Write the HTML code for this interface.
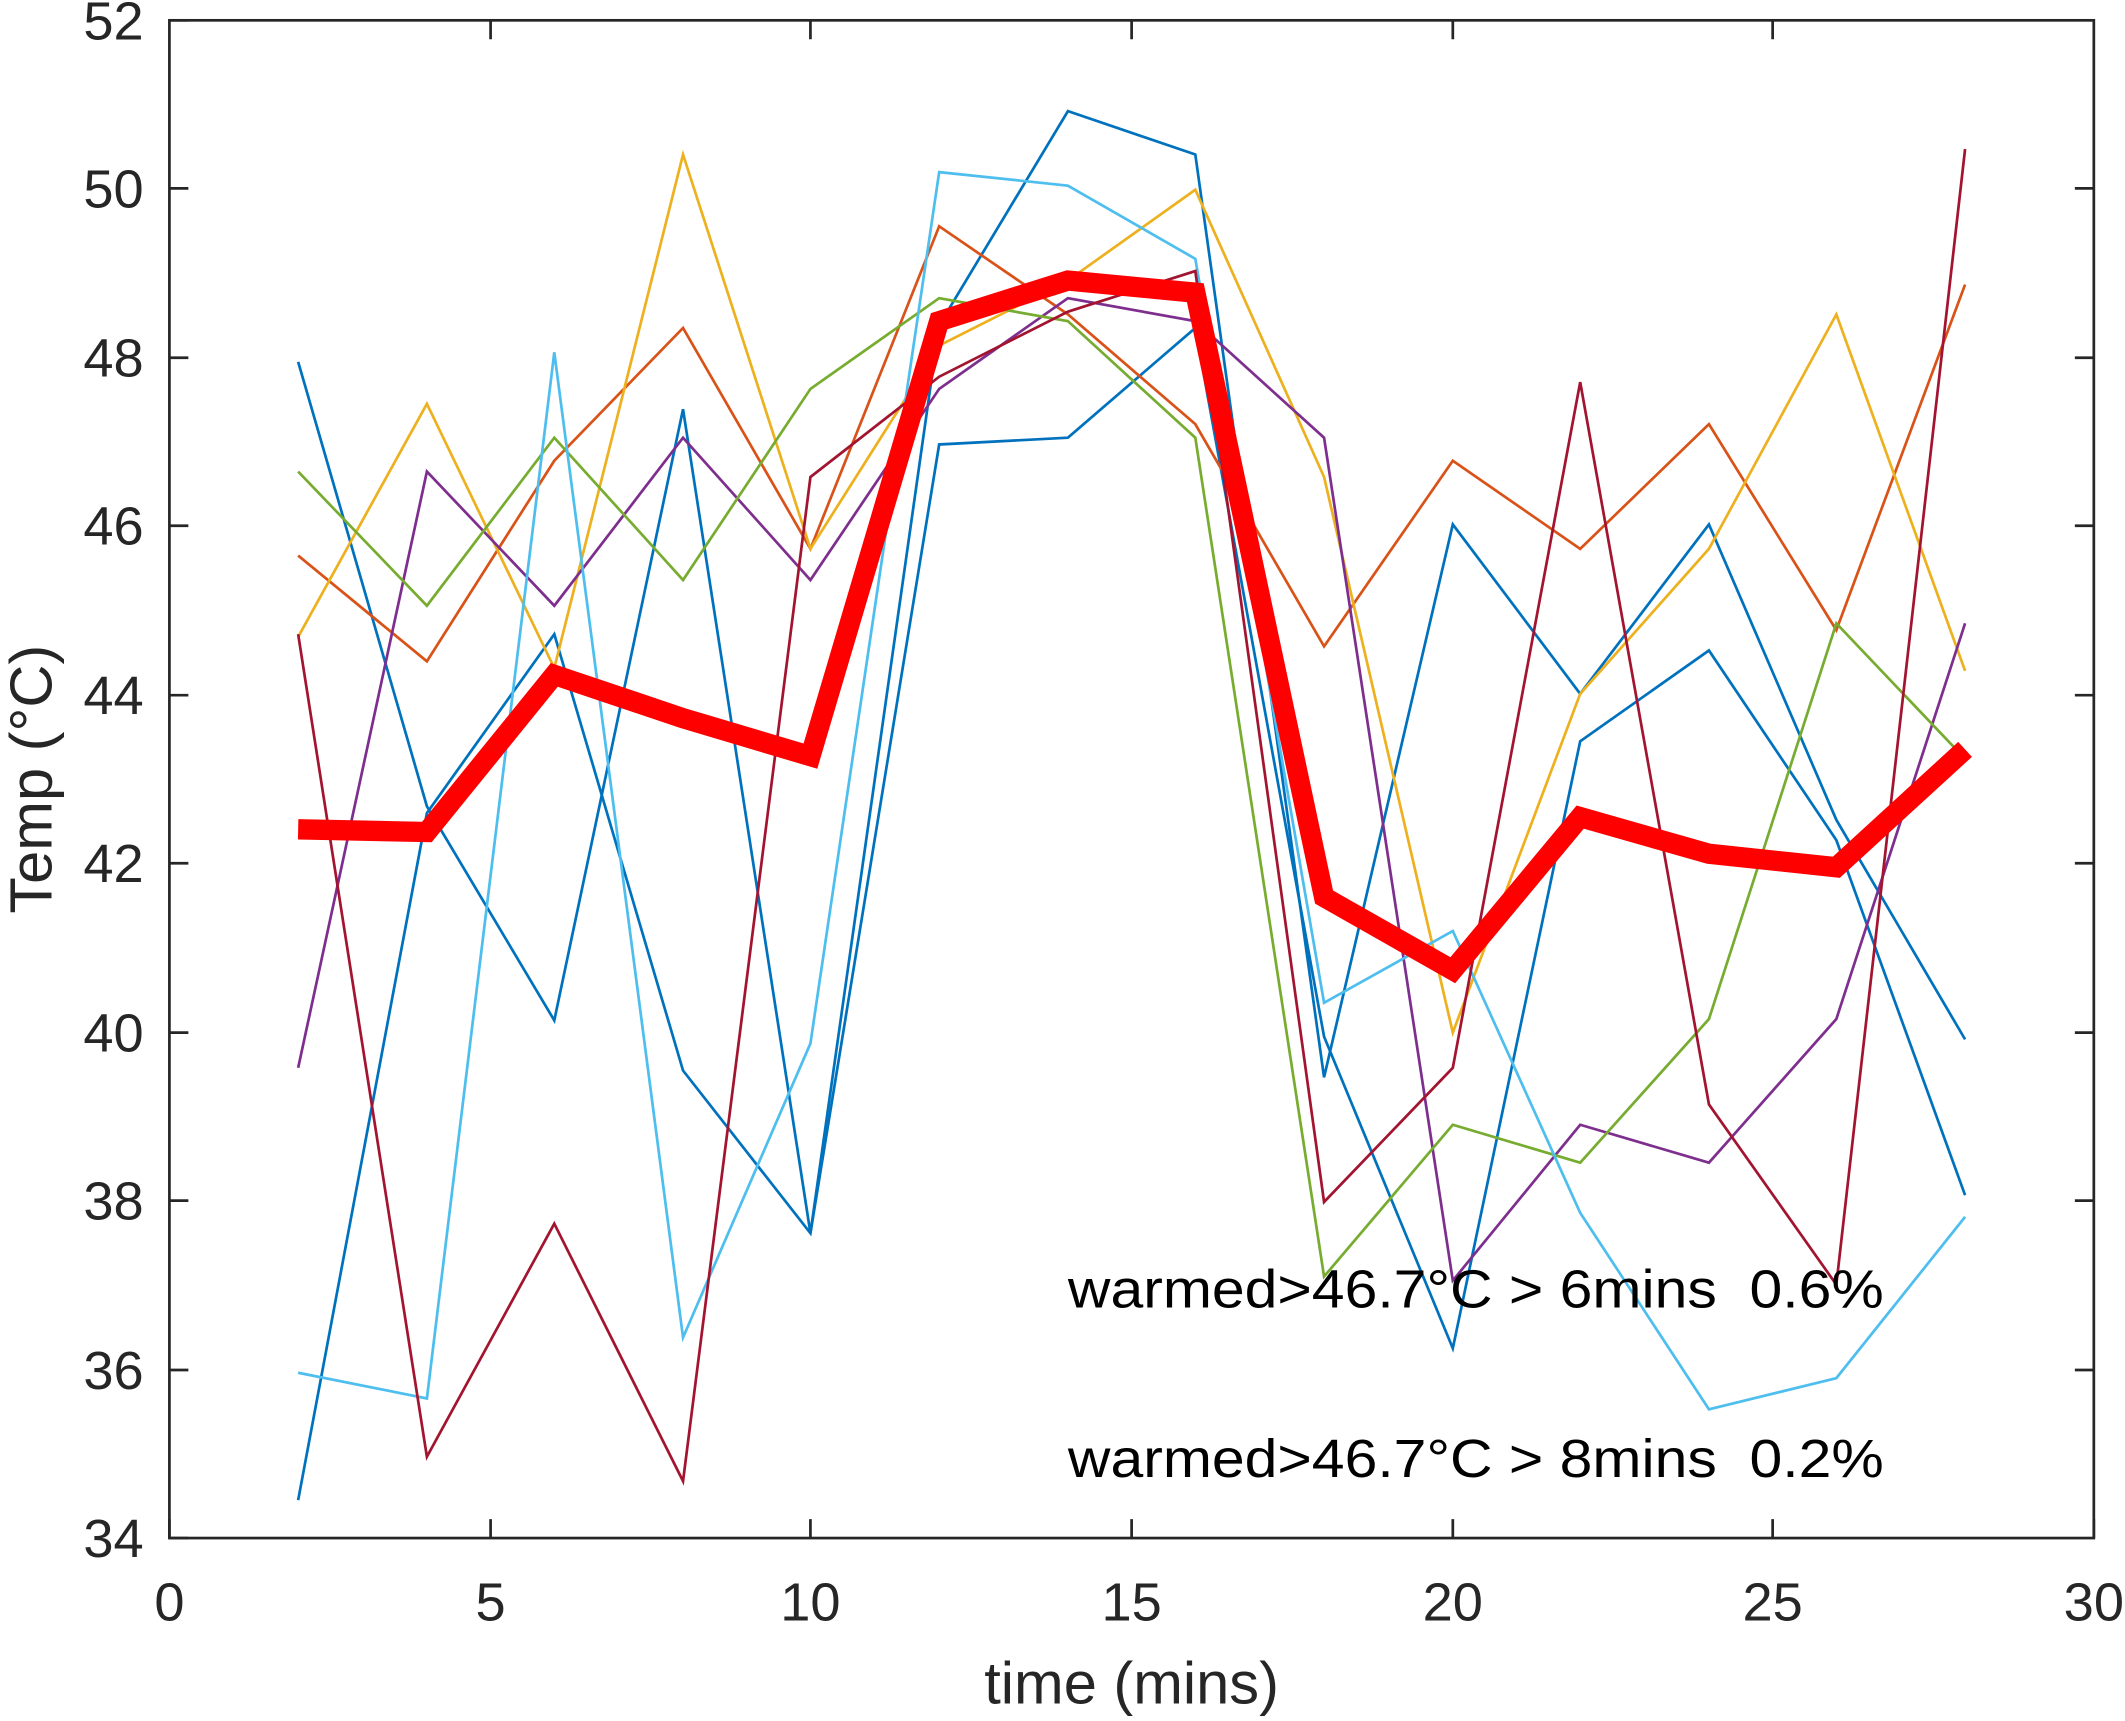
<!DOCTYPE html>
<html><head><meta charset="utf-8"><style>html,body{margin:0;padding:0;background:#fff}svg{display:block}</style></head>
<body>
<svg width="2125" height="1721" viewBox="0 0 1568 1270" preserveAspectRatio="none" xmlns="http://www.w3.org/2000/svg" font-family="Liberation Sans, Arial, sans-serif">
<rect width="1568" height="1270" fill="#fff"/>
<g fill="none" stroke-width="2" stroke-linejoin="miter">
<polyline stroke="#0072BD" points="220,267 315,595 409,753 504,302 598,910 693,328 788,323 882,242 977,765 1072,995 1166,547 1261,480 1355,620 1450,882"/>
<polyline stroke="#0072BD" points="220,1107 315,600 409,468 504,790 598,910 693,240 788,82 882,114 977,795 1072,387 1166,512 1261,387 1355,605 1450,767"/>
<polyline stroke="#D95319" points="220,410 315,488 409,340 504,242 598,405 693,167 788,232 882,313 977,477 1072,340 1166,405 1261,313 1355,465 1450,210"/>
<polyline stroke="#EDB120" points="220,470 315,298 409,493 504,114 598,405 693,255 788,207 882,140 977,352 1072,762 1166,512 1261,405 1355,232 1450,495"/>
<polyline stroke="#7E2F8E" points="220,788 315,348 409,447 504,323 598,428 693,287 788,220 882,237 977,323 1072,945 1166,830 1261,858 1355,752 1450,460"/>
<polyline stroke="#77AC30" points="220,348 315,447 409,323 504,428 598,287 693,220 788,237 882,323 977,942 1072,830 1166,858 1261,752 1355,460 1450,560"/>
<polyline stroke="#4DBEEE" points="220,1013 315,1032 409,260 504,987 598,770 693,127 788,137 882,191 977,740 1072,687 1166,895 1261,1040 1355,1017 1450,898"/>
<polyline stroke="#A2142F" points="220,468 315,1075 409,903 504,1093 598,352 693,278 788,230 882,200 977,887 1072,788 1166,282 1261,815 1355,948 1450,110"/>
<polyline stroke="#FF0000" stroke-width="15" points="220,612 315,614 409,498 504,530 598,558 693,237 788,207 882,216 977,662 1072,716 1166,603 1261,630 1355,640 1450,553"/>
</g>
<rect x="125" y="15" width="1420" height="1120" fill="none" stroke="#262626" stroke-width="2"/>
<g stroke="#262626" stroke-width="2">
<path d="M125,1135v-14M362,1135v-14M598,1135v-14M835,1135v-14M1072,1135v-14M1308,1135v-14M1545,1135v-14M362,15v14M598,15v14M835,15v14M1072,15v14M1308,15v14"/>
<path d="M125,15h14M125,139h14M125,264h14M125,388h14M125,513h14M125,637h14M125,762h14M125,886h14M125,1011h14M125,1135h14M1545,139h-14M1545,264h-14M1545,388h-14M1545,513h-14M1545,637h-14M1545,762h-14M1545,886h-14M1545,1011h-14"/>
</g>
<g fill="#262626" font-size="40" text-anchor="middle">
<text x="125" y="1196">0</text><text x="362" y="1196">5</text><text x="598" y="1196">10</text><text x="835" y="1196">15</text><text x="1072" y="1196">20</text><text x="1308" y="1196">25</text><text x="1545" y="1196">30</text>
</g>
<g fill="#262626" font-size="40" text-anchor="end">
<text x="106" y="29">52</text><text x="106" y="153">50</text><text x="106" y="278">48</text><text x="106" y="402">46</text><text x="106" y="527">44</text><text x="106" y="651">42</text><text x="106" y="776">40</text><text x="106" y="900">38</text><text x="106" y="1025">36</text><text x="106" y="1149">34</text>
</g>
<text x="835" y="1257" font-size="44" fill="#262626" text-anchor="middle">time (mins)</text>
<text transform="translate(38,575) rotate(-90)" font-size="44" fill="#262626" text-anchor="middle">Temp (°C)</text>
<text x="788" y="965" font-size="40" fill="#000" xml:space="preserve" textLength="602" lengthAdjust="spacingAndGlyphs">warmed&gt;46.7°C &gt; 6mins  0.6%</text>
<text x="788" y="1090" font-size="40" fill="#000" xml:space="preserve" textLength="602" lengthAdjust="spacingAndGlyphs">warmed&gt;46.7°C &gt; 8mins  0.2%</text>
</svg>
</body></html>
